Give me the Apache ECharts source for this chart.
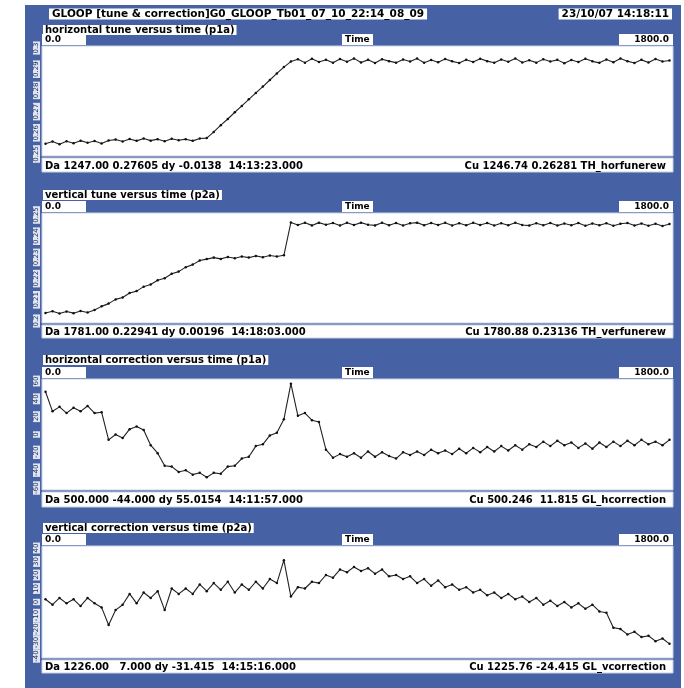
<!DOCTYPE html>
<html><head><meta charset="utf-8">
<script src="https://cdn.jsdelivr.net/npm/echarts@6/dist/echarts.min.js"></script>
<style>html,body{margin:0;padding:0;background:#fff}#c{width:684px;height:688px}</style>
</head><body><div id="c"></div>
<script>
// ---- data ----
const times = [10,30,50,70,90,110,130,150,170,190,210,230,250,270,290,310,330,350,370,390,
410,430,450,470,490,510,530,550,570,590,610,630,650,670,690,710,730,750,770,790,
810,830,850,870,890,910,930,950,970,990,1010,1030,1050,1070,1090,1110,1130,1150,1170,1190,
1210,1230,1250,1270,1290,1310,1330,1350,1370,1390,1410,1430,1450,1470,1490,1510,1530,1550,1570,1590,
1610,1630,1650,1670,1690,1710,1730,1750,1770,1790];

const horTune = [0.2548,0.2559,0.2546,0.2560,0.2551,0.2563,0.2553,0.2561,0.2550,0.2564,
0.2568,0.2559,0.2571,0.2562,0.2573,0.2563,0.2570,0.2560,0.2572,0.2565,
0.2570,0.2562,0.2573,0.2575,0.2604,0.2636,0.2665,0.2697,0.2727,0.2758,
0.2788,0.2818,0.2849,0.2880,0.2910,0.2936,0.2947,0.2931,0.2949,0.2934,
0.2945,0.2930,0.2948,0.2935,0.2951,0.2932,0.2944,0.2929,0.2947,0.2938,
0.2931,0.2946,0.2936,0.2950,0.2930,0.2943,0.2933,0.2948,0.2937,0.2929,
0.2945,0.2934,0.2949,0.2938,0.2930,0.2946,0.2935,0.2951,0.2932,0.2942,
0.2931,0.2947,0.2936,0.2944,0.2928,0.2943,0.2934,0.2949,0.2937,0.2930,
0.2946,0.2933,0.2950,0.2938,0.2929,0.2944,0.2932,0.2948,0.2936,0.2941];

const verTune = [0.2038,0.2046,0.2035,0.2045,0.2037,0.2047,0.2040,0.2052,0.2069,0.2082,
0.2102,0.2111,0.2132,0.2141,0.2162,0.2172,0.2192,0.2202,0.2223,0.2233,
0.2254,0.2266,0.2285,0.2292,0.2299,0.2293,0.2302,0.2296,0.2304,0.2299,
0.2307,0.2301,0.2309,0.2304,0.2310,0.2465,0.2453,0.2463,0.2451,0.2464,
0.2454,0.2462,0.2450,0.2463,0.2453,0.2464,0.2454,0.2451,0.2463,0.2452,
0.2462,0.2450,0.2461,0.2464,0.2452,0.2462,0.2453,0.2463,0.2450,0.2461,
0.2452,0.2463,0.2453,0.2462,0.2450,0.2461,0.2452,0.2463,0.2453,0.2450,
0.2461,0.2452,0.2462,0.2450,0.2460,0.2452,0.2462,0.2449,0.2460,0.2452,
0.2461,0.2449,0.2459,0.2462,0.2450,0.2460,0.2449,0.2459,0.2448,0.2458];

const horCorr = [48,26,31,24,30,26,32,24,25,-6,
0,-4,6,9,5,-12,-21,-35,-36,-42,
-40,-45,-43,-48,-43,-44,-36,-35,-27,-25,
-13,-11,-1,2,17,57,21,24,16,14,
-17,-26,-22,-25,-21,-26,-19,-25,-20,-24,
-27,-20,-23,-19,-23,-17,-21,-18,-22,-16,
-21,-15,-20,-14,-19,-13,-18,-12,-17,-11,
-14,-8,-13,-7,-12,-9,-15,-10,-16,-9,
-14,-8,-13,-7,-12,-6,-11,-8,-12,-6];

const verCorr = [2,-2,3,-1,2,-3,3,-1,-4,-17,
-6,-2,6,-1,7,3,8,-6,10,6,
10,6,13,8,14,9,15,7,13,9,
15,10,17,14,31,4,11,10,15,14,
20,18,24,22,26,23,25,21,24,19,
20,17,19,14,17,12,16,11,13,9,
11,7,9,5,7,3,6,2,4,0,
3,-2,1,-3,0,-4,-1,-5,-2,-7,
-8,-19,-20,-24,-22,-26,-25,-29,-27,-31];

const panelTitles = ['horizontal tune versus time (p1a)','vertical tune versus time (p2a)',
  'horizontal correction versus time (p1a)','vertical correction versus time (p2a)'];
const daTexts = ['Da 1247.00 0.27605 dy -0.0138  14:13:23.000','Da 1781.00 0.22941 dy 0.00196  14:18:03.000',
  'Da 500.000 -44.000 dy 55.0154  14:11:57.000','Da 1226.00   7.000 dy -31.415  14:15:16.000'];
const cuTexts = ['Cu 1246.74 0.26281 TH_horfunerew','Cu 1780.88 0.23136 TH_verfunerew',
  'Cu 500.246  11.815 GL_hcorrection','Cu 1225.76 -24.415 GL_vcorrection'];
const axisRanges = [[0.25,0.30,0.01],[0.20,0.25,0.01],[-60,60,20],[-40,40,10]];
const timeMin = '0.0', timeMax = '1800.0';
const mainTitle = 'GLOOP [tune & correction]G0_GLOOP_Tb01_07_10_22:14_08_09';
const dateText = '23/10/07 14:18:11';

// ---- layout ----
const BLUE = '#4662a5';
const L = 42, R = 673, W = R - L;
const panels = [
  {h:25, b:34, t:46, p:156, f:158, fe:172},
  {h:190, b:201, t:213, p:323, f:325, fe:338},
  {h:355, b:367, t:379, p:490, f:492, fe:507},
  {h:523, b:534, t:546, p:658, f:660, fe:673}
];
const FONT = '"DejaVu Sans", Verdana, sans-serif';
const allSeries = [horTune, verTune, horCorr, verCorr];

const graphic = [];
graphic.push({type:'rect', shape:{x:25,y:5,width:656,height:683}, style:{fill:BLUE}});
graphic.push({type:'text', x:49, y:14, style:{text:mainTitle, font:'bold 10.5px '+FONT, fill:'#000',
  textVerticalAlign:'middle', verticalAlign:'middle', backgroundColor:'#fff', padding:[0,3,0,3]}});
graphic.push({type:'text', x:672, y:14, style:{text:dateText, font:'bold 10.5px '+FONT, fill:'#000',
  textAlign:'right', align:'right', textVerticalAlign:'middle', verticalAlign:'middle', backgroundColor:'#fff', padding:[0,3,0,3]}});

panels.forEach((p,i)=>{
  graphic.push({type:'rect', shape:{x:L,y:p.t,width:W,height:p.p-p.t}, style:{fill:'#fff', stroke:'#c9d1e4', lineWidth:1}});
  graphic.push({type:'rect', shape:{x:L,y:p.f,width:W,height:p.fe-p.f}, style:{fill:'#fff', stroke:'#c9d1e4', lineWidth:1}});
  graphic.push({type:'text', x:L+1, y:p.h+5, style:{text:panelTitles[i], font:'bold 10px '+FONT, fill:'#000',
    textVerticalAlign:'middle', verticalAlign:'middle', backgroundColor:'#fff', padding:[0,2,0,2]}});
  graphic.push({type:'rect', shape:{x:L,y:p.b,width:44,height:11}, style:{fill:'#fff'}});
  graphic.push({type:'text', x:L+3, y:p.b+6, style:{text:timeMin, font:'bold 9px '+FONT, fill:'#000', textVerticalAlign:'middle', verticalAlign:'middle'}});
  graphic.push({type:'rect', shape:{x:342,y:p.b,width:31,height:11}, style:{fill:'#fff'}});
  graphic.push({type:'text', x:345, y:p.b+6, style:{text:'Time', font:'bold 9px '+FONT, fill:'#000', textVerticalAlign:'middle', verticalAlign:'middle'}});
  graphic.push({type:'rect', shape:{x:619,y:p.b,width:54,height:11}, style:{fill:'#fff'}});
  graphic.push({type:'text', x:669, y:p.b+6, style:{text:timeMax, font:'bold 9px '+FONT, fill:'#000', textAlign:'right', align:'right', textVerticalAlign:'middle', verticalAlign:'middle'}});
  const fy = (p.f+p.fe)/2+1;
  graphic.push({type:'text', x:L+3, y:fy, style:{text:daTexts[i], font:'bold 10px '+FONT, fill:'#000', textVerticalAlign:'middle', verticalAlign:'middle'}});
  graphic.push({type:'text', x:R-7, y:fy, style:{text:cuTexts[i], font:'bold 10px '+FONT, fill:'#000', textAlign:'right', align:'right', textVerticalAlign:'middle', verticalAlign:'middle'}});
});

const grids = panels.map(p=>({left:L, top:p.t+2, width:W, height:p.p-p.t-4, containLabel:false}));
const xAxes = panels.map((p,i)=>({type:'value', gridIndex:i, min:0, max:1800, show:false}));
const yAxes = panels.map((p,i)=>({type:'value', gridIndex:i, min:axisRanges[i][0], max:axisRanges[i][1], interval:axisRanges[i][2],
  z:10, axisLine:{show:false}, axisTick:{show:false}, splitLine:{show:false},
  axisLabel:{show:true, rotate:90, fontSize:7, fontFamily:FONT, color:'#1b2b5c', backgroundColor:'#dfe5f3', padding:[0,1,0,1], margin:2}}));
const series = allSeries.map((vals,i)=>({type:'line', xAxisIndex:i, yAxisIndex:i, z:20,
  data: times.map((t,k)=>[t, vals[k]]),
  showSymbol:true, symbol:'circle', symbolSize:2.5, lineStyle:{width:1.1, color:'#222'}, itemStyle:{color:'#111'},
  animation:false, silent:true}));

const chart = echarts.init(document.getElementById('c'), null, {renderer:'canvas'});
chart.setOption({backgroundColor:'#fff', animation:false, graphic:{elements:graphic},
  grid:grids, xAxis:xAxes, yAxis:yAxes, series:series});
</script></body></html>
